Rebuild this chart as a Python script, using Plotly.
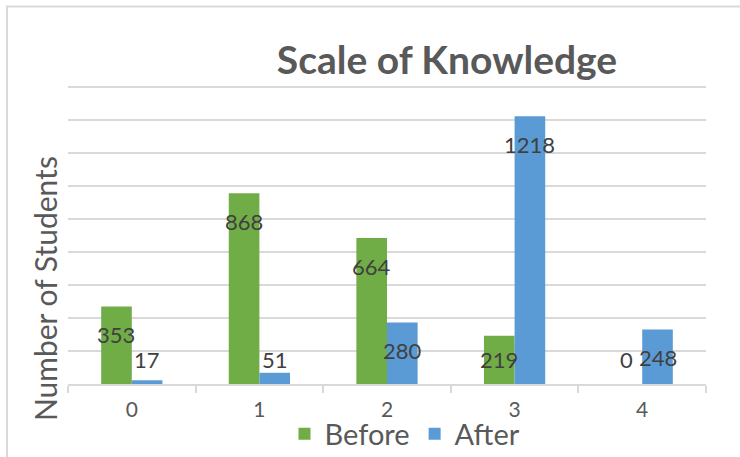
import plotly.graph_objects as go

categories = ["0", "1", "2", "3", "4"]
before = [353, 868, 664, 219, 0]
after = [17, 51, 280, 1218, 248]
series_names = ["Before", "After"]
colors = ["#70AD47", "#5B9BD5"]

W, H = 740, 457
px_per_unit = 297 / 1350          # pixels per student
ymax = 1365
base_y = 384                       # pixel row of the x axis
L, R = 68, 34
B = H - base_y
plot_h = ymax * px_per_unit
T = H - B - plot_h
plot_w = W - L - R

fig = go.Figure()
for name, vals, col in zip(series_names, [before, after], colors):
    fig.add_trace(go.Bar(x=categories, y=vals, name=name, marker_color=col,
                         marker_line_width=0))

# data labels (Excel-style inside end, clamped near the base)
bar_off = plot_w / len(categories) * (1 - 0.52) / 4
annotations = []
for i, vals in enumerate([before, after]):
    shift = -bar_off if i == 0 else bar_off
    for c, v in zip(categories, vals):
        ly = max(v - 28 / px_per_unit, 25 / px_per_unit)
        annotations.append(dict(x=c, y=ly, xref="x", yref="y", text=str(v),
                                showarrow=False, xshift=shift,
                                font=dict(family="Lato", size=22, color="#404040")))

annotations.append(dict(text="Number of Students", textangle=-90, showarrow=False,
                        xref="paper", yref="paper",
                        x=(45 - L) / plot_w, y=(base_y - 289) / plot_h,
                        xanchor="center", yanchor="middle",
                        font=dict(family="Lato", size=30, color="#595959")))

fig.update_layout(
    width=W, height=H,
    margin=dict(l=L, r=R, t=T, b=B, pad=0, autoexpand=False),
    paper_bgcolor="white", plot_bgcolor="white",
    barmode="group", bargap=0.52, bargroupgap=0,
    title=dict(text="<b>Scale of Knowledge</b>", x=(447 - L) / plot_w, xref="paper",
               xanchor="center", y=1 - 60 / H, yanchor="middle",
               font=dict(family="Lato", size=39, color="#595959")),
    xaxis=dict(type="category", showgrid=False, showline=True, linecolor="#D9D9D9",
               linewidth=2, ticks="outside", tickson="boundaries", ticklen=7,
               tickcolor="#D9D9D9", tickwidth=2, ticklabelstandoff=6,
               tickfont=dict(family="Lato", size=21, color="#595959")),
    yaxis=dict(range=[0, ymax], tick0=0, dtick=150, showgrid=True, gridcolor="#D9D9D9",
               gridwidth=2, showticklabels=False, zeroline=False, showline=False),
    legend=dict(orientation="h", x=(405 - L) / plot_w, xanchor="center",
                y=(base_y - 434) / plot_h, yanchor="middle",
                font=dict(family="Lato", size=29, color="#595959"),
                bgcolor="rgba(0,0,0,0)"),
    annotations=annotations,
    shapes=[dict(type="rect", xref="paper", yref="paper",
                 x0=(7 - L) / plot_w, x1=(W + 20 - L) / plot_w,
                 y0=(base_y - (H + 20)) / plot_h, y1=(base_y - 6) / plot_h,
                 line=dict(color="#D9D9D9", width=2), layer="below")],
)

fig.write_html("out.html", config={"displayModeBar": False},
               post_script="document.body.style.margin='0';")
